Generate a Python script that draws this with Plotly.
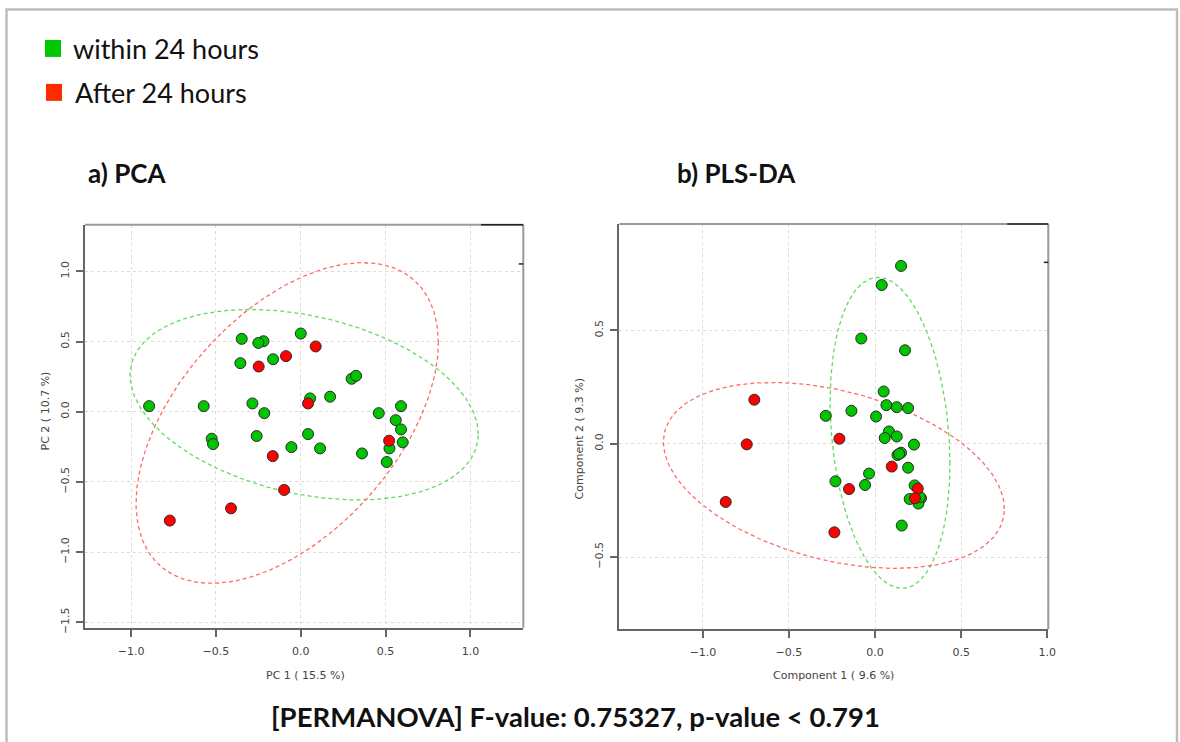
import numpy as np
import plotly.graph_objects as go

# layout is designed on a 1180 x 742 grid; the figure itself is drawn slightly larger
GRID_W, GRID_H = 1180, 742
FIG_W, FIG_H = 1188, 747

# ---------------- data ----------------
# PCA scores, samples processed within 24 hours
pca_within_x = [-0.894, -0.572, -0.348, -0.220, -0.250, -0.356, -0.163, -0.285, -0.215, 0.000,
                0.300, 0.326, 0.055, 0.173, 0.460, 0.591, 0.560, 0.591, 0.601, 0.523,
                0.507, 0.361, 0.043, -0.055, 0.114, -0.525, -0.517, -0.260]
pca_within_y = [0.040, 0.040, 0.519, 0.502, 0.490, 0.346, 0.374, 0.059, -0.010, 0.557,
                0.235, 0.256, 0.095, 0.107, -0.010, 0.040, -0.060, -0.126, -0.218, -0.261,
                -0.358, -0.297, -0.159, -0.252, -0.261, -0.192, -0.230, -0.173]
# PCA scores, samples processed after 24 hours
pca_after_x = [-0.248, -0.087, 0.088, 0.043, 0.521, -0.165, -0.098, -0.411, -0.772]
pca_after_y = [0.322, 0.396, 0.465, 0.059, -0.206, -0.316, -0.557, -0.688, -0.775]

# PLS-DA scores
pls_within_x = [0.151, 0.039, -0.080, 0.174, 0.050, 0.066, 0.126, 0.192, -0.286, -0.137,
                0.006, 0.081, 0.056, 0.126, 0.226, 0.151, 0.130, 0.192, -0.035, -0.058,
                -0.230, 0.230, 0.267, 0.201, 0.252, 0.155, 0.260, 0.140]
pls_within_y = [0.784, 0.700, 0.464, 0.412, 0.230, 0.170, 0.161, 0.157, 0.123, 0.145,
                0.120, 0.054, 0.025, 0.032, -0.004, -0.040, -0.050, -0.106, -0.132, -0.182,
                -0.166, -0.184, -0.241, -0.244, -0.264, -0.361, -0.235, -0.045]
pls_after_x = [-0.701, -0.745, -0.867, -0.207, 0.097, -0.151, 0.248, 0.232, -0.236]
pls_after_y = [0.194, -0.003, -0.257, 0.022, -0.101, -0.200, -0.198, -0.241, -0.391]

# 95% confidence ellipses: centre and shape matrix (sxx, sxy, syy)
pca_within_ell = [0.02, 0.05, 1.053, -0.215, 0.460]
pca_after_ell = [-0.08, -0.08, 0.794, 0.510, 1.304]
pls_within_ell = [0.087, 0.048, 0.121, -0.048, 0.470]
pls_after_ell = [-0.239, -0.140, 0.980, -0.146, 0.168]

ticks_pca_x = [-1.0, -0.5, 0.0, 0.5, 1.0]
ticks_pca_y = [-1.5, -1.0, -0.5, 0.0, 0.5, 1.0]
ticks_pls_x = [-1.0, -0.5, 0.0, 0.5, 1.0]
ticks_pls_y = [-0.5, 0.0, 0.5]

group_names = ["within 24 hours", "After 24 hours"]
panel_titles = ["a) PCA", "b) PLS-DA"]
axis_titles = ["PC 1 ( 15.5 %)", "PC 2 ( 10.7 %)", "Component 1 ( 9.6 %)", "Component 2 ( 9.3 %)"]
stats_text = "[PERMANOVA] F-value: 0.75327, p-value < 0.791"

GREEN = "#00c400"
RED = "#ff0000"
ELL_GREEN = "#5fdc5f"
ELL_RED = "#ff6a6a"
UI_FONT = "Lato"
R_FONT = "DejaVu Sans"


def px(x):
    return x / GRID_W


def py(y):
    return 1 - y / GRID_H


def ellipse(params, n=240):
    cx, cy, sxx, sxy, syy = params
    L = np.linalg.cholesky(np.array([[sxx, sxy], [sxy, syy]]))
    t = np.linspace(0, 2 * np.pi, n)
    pts = L @ np.vstack([np.cos(t), np.sin(t)])
    return cx + pts[0], cy + pts[1]


fig = go.Figure()

panels = [
    ("x", "y", pca_within_x, pca_within_y, pca_after_x, pca_after_y, pca_within_ell, pca_after_ell),
    ("x2", "y2", pls_within_x, pls_within_y, pls_after_x, pls_after_y, pls_within_ell, pls_after_ell),
]

for xa, ya, gx, gy, rx, ry, ge, re_ in panels:
    for params, col in ((ge, ELL_GREEN), (re_, ELL_RED)):
        ex, ey = ellipse(params)
        fig.add_trace(go.Scatter(x=ex, y=ey, mode="lines", xaxis=xa, yaxis=ya,
                                 line=dict(color=col, width=1.3, dash="4px,3px"),
                                 hoverinfo="skip", showlegend=False))
    fig.add_trace(go.Scatter(x=gx, y=gy, mode="markers", xaxis=xa, yaxis=ya,
                             name=group_names[0], showlegend=False,
                             marker=dict(size=11, color=GREEN, line=dict(color="#2a2a2a", width=1))))
    fig.add_trace(go.Scatter(x=rx, y=ry, mode="markers", xaxis=xa, yaxis=ya,
                             name=group_names[1], showlegend=False,
                             marker=dict(size=11, color=RED, line=dict(color="#2a2a2a", width=1))))

axis_common = dict(showgrid=True, gridcolor="#dcdcdc", griddash="dot", gridwidth=1,
                   zeroline=False, showline=True, linecolor="#666666", linewidth=2,
                   ticks="outside", ticklen=7, tickcolor="#666666", tickwidth=1.5,
                   tickfont=dict(family=R_FONT, size=11, color="#444444"),
                   tickformat=".1f", fixedrange=True)

left_dom_x = [px(85), px(523.3)]
left_dom_y = [py(628.7), py(225)]
right_dom_x = [px(619.3), px(1048.3)]
right_dom_y = [py(630), py(224.3)]

fig.update_layout(
    width=FIG_W, height=FIG_H, margin=dict(l=0, r=0, t=0, b=0),
    paper_bgcolor="white", plot_bgcolor="white", showlegend=False,
    xaxis=dict(axis_common, domain=left_dom_x, range=[-1.272, 1.312], tickvals=ticks_pca_x,
               anchor="y", ticklabelstandoff=5),
    yaxis=dict(axis_common, domain=left_dom_y, range=[-1.539, 1.332], tickvals=ticks_pca_y,
               anchor="x", tickangle=-90, ticklabelstandoff=3),
    xaxis2=dict(axis_common, domain=right_dom_x, range=[-1.485, 1.006], tickvals=ticks_pls_x,
                anchor="y2", ticklabelstandoff=5),
    yaxis2=dict(axis_common, domain=right_dom_y, range=[-0.818, 0.969], tickvals=ticks_pls_y,
                anchor="x2", tickangle=-90, ticklabelstandoff=3),
)

shapes = []
# outer frame
shapes.append(dict(type="rect", xref="paper", yref="paper",
                   x0=px(6.5), x1=px(1177), y0=py(760), y1=py(9.5),
                   line=dict(color="#bdbdbd", width=2.5), layer="below"))
# plot boxes (top and right edges)
for dx, dy, (x_right, y_top, blk_start, tick_y) in (
        ("x domain", "y domain", (523.3, 225, 481, 264.3)),
        ("x2 domain", "y2 domain", (1048.3, 224.3, 1007.3, 262.7))):
    shapes.append(dict(type="line", xref=dx, yref=dy, x0=0, x1=1, y0=1, y1=1,
                       line=dict(color="#9a9a9a", width=2)))
    shapes.append(dict(type="line", xref=dx, yref=dy, x0=1, x1=1, y0=0, y1=1,
                       line=dict(color="#9a9a9a", width=2)))
    # dark corner segment and short tick at top right
    shapes.append(dict(type="line", xref="paper", yref="paper",
                       x0=px(blk_start), x1=px(x_right), y0=py(y_top), y1=py(y_top),
                       line=dict(color="#222222", width=1.5)))
    shapes.append(dict(type="line", xref="paper", yref="paper",
                       x0=px(x_right - 4.5), x1=px(x_right), y0=py(tick_y), y1=py(tick_y),
                       line=dict(color="#222222", width=1.5)))

# legend swatches
shapes.append(dict(type="rect", xref="paper", yref="paper", x0=px(45), x1=px(61),
                   y0=py(57), y1=py(40), fillcolor="#00c800", line=dict(width=0)))
shapes.append(dict(type="rect", xref="paper", yref="paper", x0=px(46), x1=px(62),
                   y0=py(101), y1=py(84), fillcolor="#ff2a00", line=dict(width=0)))
fig.update_layout(shapes=shapes)

annotations = [
    dict(text=group_names[0], x=px(71), y=py(49), xanchor="left", yanchor="middle",
         font=dict(family=UI_FONT, size=27, color="#111111")),
    dict(text=group_names[1], x=px(73), y=py(93), xanchor="left", yanchor="middle",
         font=dict(family=UI_FONT, size=27, color="#111111")),
    dict(text="<b>%s</b>" % panel_titles[0], x=px(86), y=py(173), xanchor="left", yanchor="middle",
         font=dict(family=UI_FONT, size=26, color="#111111")),
    dict(text="<b>%s</b>" % panel_titles[1], x=px(675), y=py(173), xanchor="left", yanchor="middle",
         font=dict(family=UI_FONT, size=26, color="#111111")),
    dict(text=axis_titles[0], x=px(305), y=py(676), xanchor="center", yanchor="middle",
         font=dict(family=R_FONT, size=11, color="#444444")),
    dict(text=axis_titles[1], x=px(45), y=py(412), xanchor="center", yanchor="middle", textangle=-90,
         font=dict(family=R_FONT, size=11, color="#444444")),
    dict(text=axis_titles[2], x=px(833), y=py(676), xanchor="center", yanchor="middle",
         font=dict(family=R_FONT, size=11, color="#444444")),
    dict(text=axis_titles[3], x=px(579), y=py(440), xanchor="center", yanchor="middle", textangle=-90,
         font=dict(family=R_FONT, size=11, color="#444444")),
    dict(text="<b>%s</b>" % stats_text, x=px(575), y=py(717), xanchor="center", yanchor="middle",
         font=dict(family=UI_FONT, size=27.5, color="#111111")),
]
for a in annotations:
    a.update(xref="paper", yref="paper", showarrow=False)
fig.update_layout(annotations=annotations)

fig.write_html("out.html")
